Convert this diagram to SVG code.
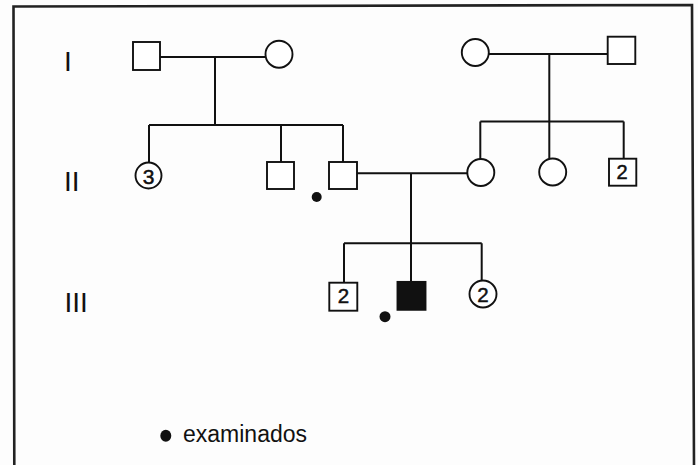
<svg xmlns="http://www.w3.org/2000/svg" width="698" height="465" viewBox="0 0 698 465">
<style>
.ln{stroke:#111;stroke-width:2;fill:none}
.sh{stroke:#111;stroke-width:1.9;fill:#fff}
.num{font-family:"Liberation Sans",Arial,sans-serif;fill:#111;stroke:#111;stroke-width:0.5;text-anchor:middle}
.gen{font-family:"Liberation Sans",Arial,sans-serif;font-size:28px;fill:#111}
.dot{fill:#111}
</style>
<rect x="0" y="0" width="698" height="465" fill="#fdfdfd"/>
<path d="M14.3,465 L13.5,6.5 L692,5 L694,465" fill="none" stroke="#222" stroke-width="2.6"/>
<g id="gen-labels">
<text class="gen" x="64" y="71">I</text>
<text class="gen" x="64" y="191">II</text>
<text class="gen" x="64.5" y="312">III</text>
</g>
<g id="connectors">
<path class="ln" d="M160,57 H265.5 M215,57 V125 M149,125 H343 M149,125 V162.5 M281,125 V162 M343,125 V162"/>
<path class="ln" d="M489,54 H607.7 M549.3,54 V121.5 M480.3,121.5 H623.7 M480.3,121.5 V159 M549.3,121.5 V158.5 M623.7,121.5 V158.7"/>
<path class="ln" d="M357,173.3 H467.3 M411,173.3 V243.3 M344,243.3 H481.7 M344,243.3 V282.7 M411,243.3 V281.7 M481.7,243.3 V280.5"/>
</g>
<g id="I-1"><rect class="sh" x="133" y="42" width="27" height="28"/></g>
<g id="I-2"><circle class="sh" cx="279" cy="54.2" r="13.5"/></g>
<g id="I-3"><circle class="sh" cx="475.3" cy="52.5" r="13.5"/></g>
<g id="I-4"><rect class="sh" x="607.7" y="36.7" width="27.6" height="27.3"/></g>
<g id="II-1"><circle class="sh" cx="148.5" cy="175.5" r="13"/><text class="num" x="148.5" y="183.5" font-size="21">3</text></g>
<g id="II-2"><rect class="sh" x="267" y="162" width="27" height="27"/></g>
<g id="II-3"><rect class="sh" x="329" y="162" width="28" height="27"/><circle class="dot" cx="316.7" cy="197" r="5"/></g>
<g id="II-4"><circle class="sh" cx="480.8" cy="172.5" r="13.5"/></g>
<g id="II-5"><circle class="sh" cx="552.7" cy="172" r="13.5"/></g>
<g id="II-6"><rect class="sh" x="609" y="158.7" width="27.3" height="27"/><text class="num" x="622" y="178.5" font-size="20">2</text></g>
<g id="III-1"><rect class="sh" x="329.3" y="282.7" width="28" height="28"/><text class="num" x="343.5" y="303" font-size="20.5">2</text></g>
<g id="III-2"><rect x="397.3" y="281.7" width="28.4" height="28.3" fill="#111" stroke="#111" stroke-width="1.5"/><circle class="dot" cx="385" cy="316.7" r="5.5"/></g>
<g id="III-3"><circle class="sh" cx="483" cy="294" r="13.5"/><text class="num" x="483" y="302" font-size="20.5">2</text></g>
<g id="legend">
<ellipse class="dot" cx="165.8" cy="435.8" rx="5.5" ry="6"/>
<text x="183" y="441.7" font-family="'Liberation Sans',Arial,sans-serif" font-size="23" fill="#111">examinados</text>
</g>
</svg>
